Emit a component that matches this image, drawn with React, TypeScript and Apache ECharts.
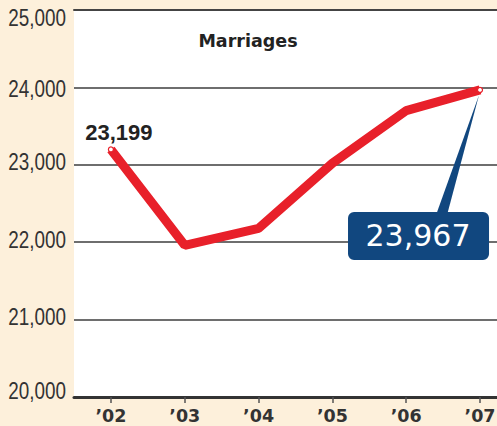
import React, { useEffect, useRef } from "react";
import * as echarts from "echarts";

const years = ["’02", "’03", "’04", "’05", "’06", "’07"];
const marriages = [23199, 21960, 22180, 23020, 23700, 23967];
const yTicks = [20000, 21000, 22000, 23000, 24000, 25000];
const yLabelShift = [-6, -3, -2, -3, 1, 7.5];
const titleText = "Marriages";

const RED = "#e8202a";
const NAVY = "#11477f";
const fmt = (v: number) => v.toLocaleString("en-US");

export default function App() {
  const ref = useRef<HTMLDivElement>(null);
  useEffect(() => {
    const chart = echarts.init(ref.current!, null, { renderer: "svg" });
    const last = marriages.length - 1;
    const idx = years.map((_, i) => i);
    const data = marriages.map((v, i) => {
      const item: any = { value: [i, v] };
      if (i === 0 || i === last) {
        item.symbol = "circle";
        item.symbolSize = 5;
      } else {
        item.symbol = "none";
      }
      if (i === 0) {
        item.label = {
          show: true,
          position: "inside",
          offset: [8, -17],
          formatter: () => fmt(v),
          fontFamily: "Liberation Sans",
          fontWeight: "bold",
          fontSize: 22,
          color: "#222",
        };
      }
      return item;
    });
    const titleGraphic = {
      type: "text",
      x: 248,
      y: 41,
      style: {
        text: titleText,
        fill: "#222",
        font: "bold 17.5px 'DejaVu Sans'",
        align: "center",
        verticalAlign: "middle",
      },
    };
    chart.setOption({
      animation: false,
      backgroundColor: "#fdf0db",
      grid: {
        left: 74,
        right: 0,
        top: 10,
        bottom: 29,
        show: true,
        backgroundColor: "#ffffff",
        borderWidth: 0,
        containLabel: false,
        outerBoundsMode: "none",
      },
      xAxis: [
        {
          type: "value",
          min: -0.5,
          max: 5.23,
          position: "bottom",
          axisLine: { show: true, lineStyle: { color: "#333", width: 3 } },
          axisTick: {
            show: true,
            customValues: idx,
            length: 6,
            lineStyle: { color: "#555", width: 1.5 },
          },
          axisLabel: {
            show: true,
            customValues: idx,
            formatter: (v: number) => years[Math.round(v)] ?? "",
            fontFamily: "DejaVu Sans",
            fontWeight: "bold",
            fontSize: 17.5,
            color: "#333",
            margin: 10,
          },
          splitLine: { show: false },
        },
        {
          type: "value",
          min: -0.5,
          max: 5.23,
          position: "top",
          axisLine: { show: true, lineStyle: { color: "#444", width: 2 } },
          axisTick: { show: false },
          axisLabel: { show: false },
          splitLine: { show: false },
        },
      ],
      yAxis: {
        type: "value",
        min: yTicks[0],
        max: yTicks[yTicks.length - 1],
        interval: yTicks[1] - yTicks[0],
        axisLine: { show: false },
        axisTick: { show: false },
        splitLine: { show: true, lineStyle: { color: "#6e6e6e", width: 2 } },
        axisLabel: { show: false },
      },
      graphic: [titleGraphic],
      series: [
        {
          type: "line",
          xAxisIndex: 0,
          yAxisIndex: 0,
          data,
          lineStyle: { color: RED, width: 9 },
          itemStyle: { color: "#fff", borderColor: RED, borderWidth: 1.2 },
          z: 3,
        },
      ],
    });

    const [px, py] = chart.convertToPixel({ seriesIndex: 0 }, [last, marriages[last]]) as number[];
    const yLabels = yTicks.map((t, i) => {
      const [, ly] = chart.convertToPixel({ seriesIndex: 0 }, [0, t]) as number[];
      return {
        type: "text",
        x: 66,
        y: ly + yLabelShift[i],
        scaleX: 0.82,
        style: {
          text: fmt(t),
          fill: "#333",
          font: "23px 'Liberation Sans'",
          align: "right",
          verticalAlign: "middle",
        },
      };
    });
    chart.setOption({
      graphic: [
        titleGraphic,
        ...yLabels,
        {
          type: "polygon",
          z: 10,
          shape: { points: [[px - 44, py + 125], [px - 33, py + 125], [px - 1, py + 5]] },
          style: { fill: NAVY },
        },
        {
          type: "rect",
          z: 10,
          shape: { x: px - 132, y: py + 122, width: 141, height: 48, r: 6 },
          style: { fill: NAVY },
        },
        {
          type: "text",
          z: 11,
          x: px - 62,
          y: py + 146,
          style: {
            text: fmt(marriages[last]),
            fill: "#fff",
            font: "30px 'DejaVu Sans'",
            align: "center",
            verticalAlign: "middle",
          },
        },
      ],
    });
    return () => chart.dispose();
  }, []);
  return (
    <div
      ref={ref}
      style={{ position: "fixed", left: 0, top: 0, width: 497, height: 426 }}
    />
  );
}
